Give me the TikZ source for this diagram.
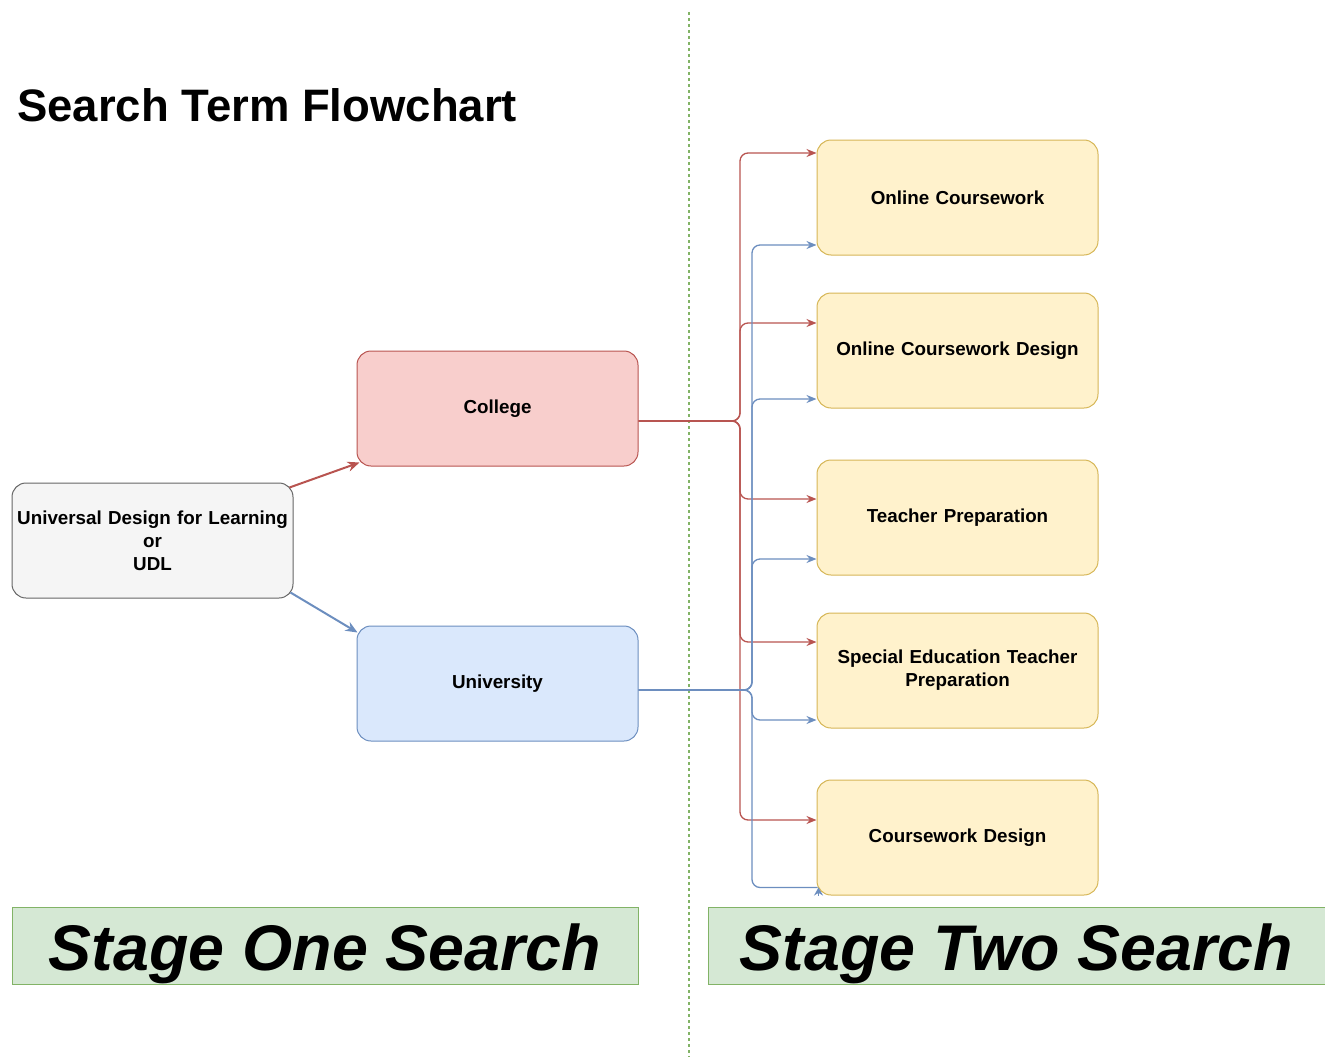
\documentclass[tikz,border=0pt]{standalone}
\usepackage{fontspec}
\setmainfont{Liberation Sans}
\usetikzlibrary{arrows.meta,calc}
\definecolor{redS}{HTML}{B85450}
\definecolor{redF}{HTML}{F8CECC}
\definecolor{blueS}{HTML}{6C8EBF}
\definecolor{blueF}{HTML}{DAE8FC}
\definecolor{yelS}{HTML}{D6B656}
\definecolor{yelF}{HTML}{FFF2CC}
\definecolor{grayS}{HTML}{666666}
\definecolor{grayF}{HTML}{F5F5F5}
\definecolor{grnS}{HTML}{82B366}
\definecolor{grnF}{HTML}{D5E8D4}
\begin{document}
\begin{tikzpicture}[x=1pt,y=-1pt,
  box/.style={draw, rounded corners=14pt, minimum width=281pt, minimum height=115pt, line width=1pt, align=center, font=\fontsize{18.8}{23}\selectfont\bfseries, inner sep=0pt, text width=278pt},
  redbox/.style={box, draw=redS, fill=redF},
  bluebox/.style={box, draw=blueS, fill=blueF},
  yelbox/.style={box, draw=yelS, fill=yelF},
  graybox/.style={box, draw=grayS, fill=grayF},
  stagebox/.style={draw=grnS, fill=grnF, line width=1pt, minimum height=77pt, inner sep=0pt, text height=54pt, text depth=4pt, font=\fontsize{64.5}{70}\selectfont\bfseries\itshape},
  redarr/.style={draw=redS, line width=1.3pt, rounded corners=8pt, -{Stealth[length=10pt,width=8pt]}},
  bluearr/.style={draw=blueS, line width=1.3pt, rounded corners=8pt, -{Stealth[length=10pt,width=8pt]}},
]
\useasboundingbox (0,0) rectangle (1325,1057);
\draw[grnS, line width=1.3pt, dash pattern=on 3pt off 3pt] (689,12) coordinate (dtop) -- (689,1057) coordinate (dbot);

\node[anchor=base west, font=\fontsize{45.5}{50}\selectfont\bfseries, inner sep=0pt] (title) at (17,121) {Search Term Flowchart};

\node[graybox] (udl) at (152.5,540.5) {Universal Design for Learning\\or\\UDL};
\node[redbox] (col) at (497.5,408.5) {College};
\node[bluebox] (uni) at (497.5,683.5) {University};

\node[yelbox] (oc) at (957.5,197.5) {Online Coursework};
\node[yelbox] (ocd) at (957.5,350.5) {Online Coursework Design};
\node[yelbox] (tp) at (957.5,517.5) {Teacher Preparation};
\node[yelbox] (setp) at (957.5,670.5) {Special Education Teacher\\Preparation};
\node[yelbox] (cd) at (957.5,837.5) {Coursework Design};

\node[stagebox, minimum width=626pt] (s1) at (325,945.5) {Stage One Search};
\node[stagebox, minimum width=617pt] (s2) at (1016.5,945.5) {Stage Two Search};

% UDL to College/University
\draw[draw=redS, line width=2pt, -{Stealth[length=12pt,width=10pt]}] ([xshift=-4pt,yshift=-5pt]udl.north east) -- ([xshift=3pt,yshift=4pt]col.south west);
\draw[draw=blueS, line width=2pt, -{Stealth[length=12pt,width=10pt]}] ([xshift=-3pt,yshift=6pt]udl.south east) -- ([xshift=1pt,yshift=-7pt]uni.north west);

% red branches
\coordinate (cs) at ([yshift=-12.5pt]col.east);
\coordinate (rj) at (740,421);
\draw[redarr] (cs) -- (rj) |- ([yshift=44.5pt]oc.west);
\draw[redarr] (cs) -- (rj) |- ([yshift=27.5pt]ocd.west);
\draw[redarr] (cs) -- (rj) |- ([yshift=18.5pt]tp.west);
\draw[redarr] (cs) -- (rj) |- ([yshift=28.5pt]setp.west);
\draw[redarr] (cs) -- (rj) |- ([yshift=17.5pt]cd.west);

% blue branches
\coordinate (us) at ([yshift=-6.5pt]uni.east);
\coordinate (bj) at (752,690);
\draw[bluearr] (us) -- (bj) |- ([yshift=-47.5pt]oc.west);
\draw[bluearr] (us) -- (bj) |- ([yshift=-48.5pt]ocd.west);
\draw[bluearr] (us) -- (bj) |- ([yshift=-41.5pt]tp.west);
\draw[bluearr] (us) -- (bj) |- ([yshift=-49.5pt]setp.west);
\coordinate (b5a) at ([xshift=1pt,yshift=8pt]cd.south west);
\draw[draw=blueS, line width=1.3pt, rounded corners=8pt] (us) -- (bj) |- (b5a);
\draw[draw=blueS, line width=1.3pt, -{Stealth[length=8pt,width=9pt]}] ([xshift=2pt,yshift=0pt]cd.south west) -- ([xshift=2pt,yshift=8pt]cd.south west);
\end{tikzpicture}
\end{document}
